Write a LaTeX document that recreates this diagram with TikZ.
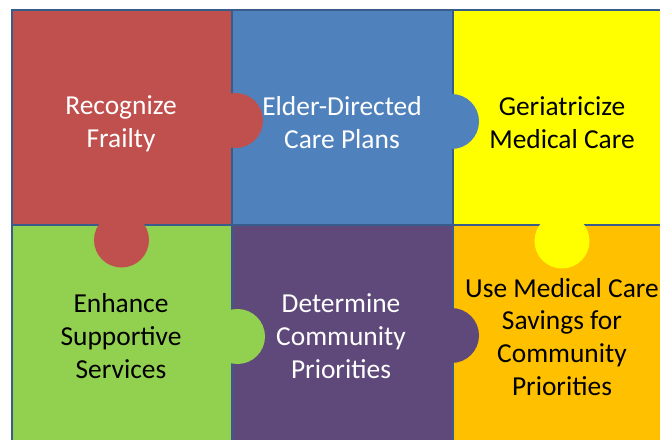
\documentclass[tikz,border=0pt]{standalone}
\usepackage{fontspec}
\setmainfont{Carlito}
\usepackage{tikz}
\usetikzlibrary{positioning}
\usepackage{xcolor}
\definecolor{pzred}{HTML}{C0504D}
\definecolor{pzblue}{HTML}{4F81BD}
\definecolor{pzyellow}{HTML}{FFFF00}
\definecolor{pzgreen}{HTML}{92D050}
\definecolor{pzpurple}{HTML}{5F497A}
\definecolor{pzorange}{HTML}{FFC000}
\definecolor{pzedge}{HTML}{385D8A}

\begin{document}
\begin{tikzpicture}[
    x=0.025cm, y=-0.025cm,
    piece/.style={rectangle, draw=pzedge, line width=1.2pt, anchor=north west, inner sep=0pt, minimum width=5.5cm},
    tab/.style={circle, inner sep=0pt, minimum size=1.375cm},
    caption/.style={align=center, font=\fontsize{19.5pt}{23.4pt}\selectfont}
]
    \path[use as bounding box, fill=white] (0,0) rectangle (660,440);
    \clip (0,0) rectangle (660,440);

    % Puzzle pieces, top row
    \node[piece, fill=pzred, minimum height=5.375cm] (frailty) at (11,9) {};
    \node[piece, fill=pzblue, minimum height=5.375cm, minimum width=5.525cm] (plans) at (231,9) {};
    \node[piece, fill=pzyellow, minimum height=5.375cm] (geri) at (452,9) {};

    % Puzzle pieces, bottom row
    \node[piece, fill=pzgreen, minimum height=5.6cm] (support) at (11,224) {};
    \node[piece, fill=pzpurple, minimum height=5.6cm, minimum width=5.525cm] (priority) at (231,224) {};
    \node[piece, fill=pzorange, minimum height=5.6cm] (savings) at (452,224) {};

    % Tabs reaching into the neighbouring piece
    \node[tab, fill=pzred] (frailtyright) at (235.5,120.5) {};
    \node[tab, fill=pzred] (frailtydown) at (121.5,240) {};
    \node[tab, fill=pzblue] (plansright) at (451.5,121.5) {};
    \node[tab, fill=pzyellow] (geridown) at (562,241) {};
    \node[tab, fill=pzgreen] (supportright) at (237.5,336.5) {};
    \node[tab, fill=pzpurple] (priorityright) at (451.5,335.5) {};

    % Texts
    \node[caption, text=white] (tfrailty) at (121,124) {Recognize\\Frailty};
    \node[caption, text=white] (tplans) at (342,122.5) {Elder-Directed\\Care Plans};
    \node[caption] (tgeri) at (562,122.5) {Geriatricize\\Medical Care};
    \node[caption] (tsupport) at (121,336) {Enhance\\Supportive\\Services};
    \node[caption, text=white] (tpriority) at (341,336) {Determine\\Community\\Priorities};
    \node[caption] (tsavings) at (562,337) {Use Medical Care\\Savings for\\Community\\Priorities};
\end{tikzpicture}
\end{document}
